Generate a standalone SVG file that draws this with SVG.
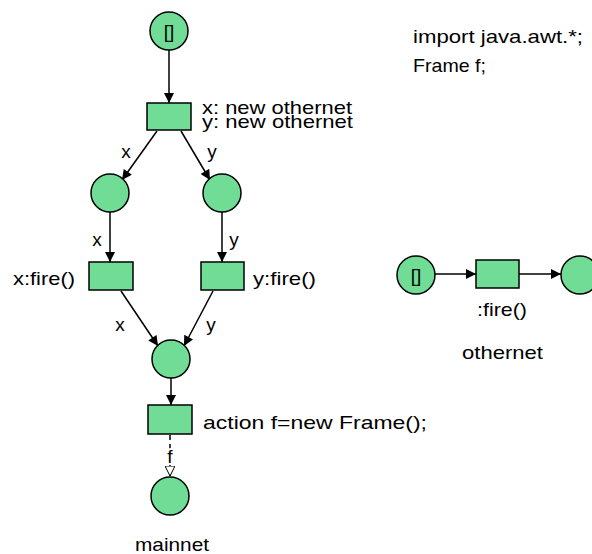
<svg xmlns="http://www.w3.org/2000/svg" width="592" height="554" viewBox="0 0 592 554">
  <defs>
    <marker id="arrow" viewBox="0 0 10 10" refX="10" refY="5" markerWidth="11" markerHeight="10" markerUnits="userSpaceOnUse" orient="auto">
      <path d="M0,0 L10,5 L0,10 Z" fill="#000"/>
    </marker>
    <marker id="arrowOpen" viewBox="0 0 10 10" refX="10" refY="5" markerWidth="10" markerHeight="10" markerUnits="userSpaceOnUse" orient="auto">
      <path d="M0,0 L10,5 L0,10 Z" fill="#fff" stroke="#000" stroke-width="1"/>
    </marker>
  </defs>
  <style>
    .place { fill: #70dc96; stroke: #000; stroke-width: 1.5; }
    .trans { fill: #70dc96; stroke: #000; stroke-width: 1.5; }
    .arc { stroke: #000; stroke-width: 1.5; fill: none; marker-end: url(#arrow); }
    .dashed { stroke: #000; stroke-width: 1.5; fill: none; stroke-dasharray: 5 4; marker-end: url(#arrowOpen); }
    text { font-family: "Liberation Sans", Arial, sans-serif; font-size: 19px; fill: #000; }
    .mid { text-anchor: middle; }
  </style>
  <rect width="592" height="554" fill="#fff"/>

  <!-- declarations -->
  <text x="413" y="43" textLength="170" lengthAdjust="spacingAndGlyphs">import java.awt.*;</text>
  <text x="413" y="72" textLength="73" lengthAdjust="spacingAndGlyphs">Frame f;</text>

  <!-- connectors -->
  <g id="connectors">
    <line class="arc" x1="169" y1="50" x2="169" y2="103"/>
    <line class="arc" x1="157" y1="131" x2="122" y2="180"/>
    <line class="arc" x1="181" y1="131" x2="210" y2="180"/>
    <line class="arc" x1="110" y1="212" x2="110" y2="262"/>
    <line class="arc" x1="222" y1="212" x2="222" y2="262"/>
    <line class="arc" x1="121" y1="291" x2="158" y2="346"/>
    <line class="arc" x1="213" y1="291" x2="184" y2="346"/>
    <line class="arc" x1="171" y1="378" x2="171" y2="405"/>
    <line class="dashed" x1="170" y1="435" x2="170" y2="476"/>
    <line class="arc" x1="435" y1="274" x2="476" y2="274"/>
    <line class="arc" x1="519" y1="274" x2="561" y2="274"/>
  </g>

  <!-- arc labels -->
  <g id="arc-labels">
    <text x="126" y="158" class="mid">x</text>
    <text x="212" y="158" class="mid">y</text>
    <text x="97" y="246" class="mid">x</text>
    <text x="234" y="246" class="mid">y</text>
    <text x="120" y="331" class="mid">x</text>
    <text x="211" y="331" class="mid">y</text>
    <text x="170" y="463" class="mid" style="paint-order:stroke" stroke="#fff" stroke-width="4">f</text>
  </g>

  <!-- main net -->
  <g id="p-start">
    <circle class="place" cx="169" cy="31" r="19"/>
    <text x="169" y="38" class="mid">[]</text>
  </g>
  <g id="t-create">
    <rect class="trans" x="147" y="103" width="44" height="27"/>
    <text x="202" y="114" textLength="150" lengthAdjust="spacingAndGlyphs">x: new othernet</text>
    <text x="202" y="128" textLength="151" lengthAdjust="spacingAndGlyphs">y: new othernet</text>
  </g>
  <g id="p-x">
    <circle class="place" cx="110" cy="193" r="19"/>
  </g>
  <g id="p-y">
    <circle class="place" cx="222" cy="193" r="19"/>
  </g>
  <g id="t-xfire">
    <rect class="trans" x="89" y="262" width="44" height="28"/>
    <text x="13" y="285" textLength="62" lengthAdjust="spacingAndGlyphs">x:fire()</text>
  </g>
  <g id="t-yfire">
    <rect class="trans" x="201" y="262" width="43" height="28"/>
    <text x="253" y="285" textLength="63" lengthAdjust="spacingAndGlyphs">y:fire()</text>
  </g>
  <g id="p-join">
    <circle class="place" cx="171" cy="359" r="19"/>
  </g>
  <g id="t-action">
    <rect class="trans" x="148" y="405" width="44" height="29"/>
    <text x="203" y="429" textLength="224" lengthAdjust="spacingAndGlyphs">action f=new Frame();</text>
  </g>
  <g id="p-frame">
    <circle class="place" cx="170" cy="496" r="19"/>
  </g>
  <text x="135" y="551" textLength="74" lengthAdjust="spacingAndGlyphs">mainnet</text>

  <!-- other net -->
  <g id="o-start">
    <circle class="place" cx="416" cy="275" r="19"/>
    <text x="416" y="282" class="mid">[]</text>
  </g>
  <g id="o-fire">
    <rect class="trans" x="476" y="260" width="43" height="28"/>
    <text x="477" y="316" textLength="50" lengthAdjust="spacingAndGlyphs">:fire()</text>
  </g>
  <g id="o-end">
    <circle class="place" cx="580" cy="275" r="19"/>
  </g>
  <text x="462" y="359" textLength="81" lengthAdjust="spacingAndGlyphs">othernet</text>
</svg>
